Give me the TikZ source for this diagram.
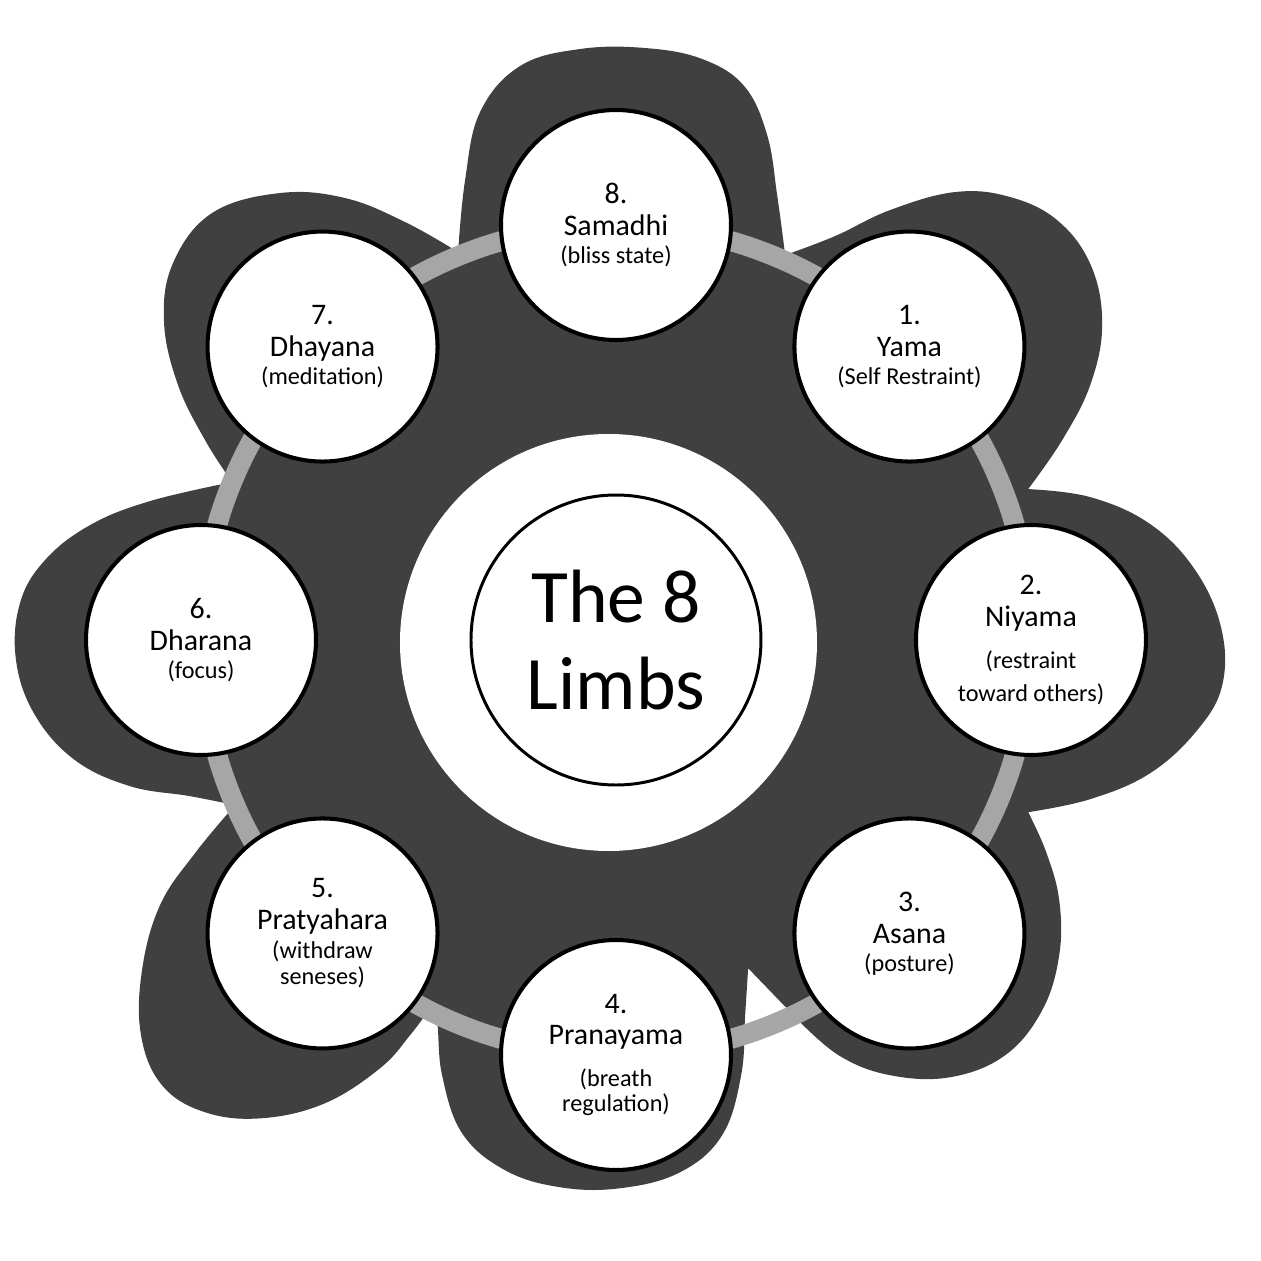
\documentclass[tikz,border=0pt]{standalone}
\usepackage{fontspec}
\setmainfont{Carlito}
\definecolor{blobgray}{RGB}{64,64,64}
\definecolor{ringgray}{RGB}{166,166,166}
\newcommand{\sublabel}[1]{{\fontsize{13.8}{16}\selectfont #1}}
\tikzset{
  limb/.style={circle, draw=black, line width=2.3pt, fill=white, minimum size=4.6cm,
    inner sep=0pt, align=center, font=\fontsize{17}{16}\selectfont},
  hub/.style={circle, draw=black, line width=1.7pt, fill=white, minimum size=5.8cm,
    inner sep=0pt, align=center, font=\fontsize{43}{49.5}\selectfont},
  ringline/.style={draw=ringgray, line width=0.4cm},
  petal/.style={smooth, tension=0.65}
}
\begin{document}
\begin{tikzpicture}
  \useasboundingbox (-12.32,-12.42) rectangle (12.9,12.8);

  % dark blob, traced in pixel units
  \begin{scope}[x=0.02cm, y=-0.02cm, shift={(-12.32cm,12.8cm)}]
    \fill[blobgray] (458,252)
      -- plot[petal] coordinates {(458,252) (465,180) (480,112) (520,66) (580,49) (645,48)
         (702,59) (744,86) (767,135) (777,195) (785,255)}
      -- plot[petal] coordinates {(785,255) (835,236) (890,210) (955,192) (1010,197)
         (1058,221) (1091,266) (1102,325) (1090,385) (1062,440) (1028,489)}
      -- plot[petal] coordinates {(1028,489) (1090,497) (1150,524) (1195,570) (1221,628)
         (1222,685) (1197,730) (1150,773) (1090,799) (1028,812)}
      -- plot[petal] coordinates {(1028,812) (1046,852) (1059,900) (1059,955) (1042,1010)
         (1005,1055) (950,1077) (890,1075) (840,1056) (800,1022)}
      -- (748,968)
      -- plot[petal] coordinates {(748,968) (745,1015) (741,1075) (722,1135) (680,1172)
         (620,1188) (560,1187) (505,1170) (462,1133) (442,1075) (437,1022) (430,1008)}
      -- plot[petal] coordinates {(430,1008) (410,1035) (380,1068) (325,1103) (262,1118)
         (205,1112) (162,1085) (141,1035) (142,970) (160,905) (195,853) (235,805)}
      -- plot[petal] coordinates {(235,805) (190,796) (130,786) (75,760) (35,715)
         (16,660) (20,603) (45,560) (90,525) (150,501) (232,482)}
      -- plot[petal] coordinates {(232,482) (205,440) (178,385) (164,322) (173,263)
         (212,213) (280,193) (345,198) (405,222) (458,252)}
      -- cycle;
  \end{scope}

  \fill[white] (-0.15,-0.05) circle (4.17cm);
  \draw[ringline] (0,0) circle (8.3cm);

  \node[hub] (hub) at (0,0) {The 8\\Limbs};

  \node[limb] (samadhi) at (90:8.3) {8.\\[2.1pt]Samadhi\\\sublabel{(bliss state)}};
  \node[limb] (yama) at (45:8.3) {1.\\[2.1pt]Yama\\\sublabel{(Self Restraint)}};
  \node[limb] (niyama) at (0:8.3) {2.\\[2.1pt]Niyama\\[8.4pt]\sublabel{(restraint}\\[2.7pt]\sublabel{toward others)}};
  \node[limb] (asana) at (-45:8.3) {3.\\[2.1pt]Asana\\\sublabel{(posture)}};
  \node[limb] (pranayama) at (-90:8.3) {4.\\[2.1pt]Pranayama\\[7.9pt]\sublabel{(breath}\\[-1.8pt]\sublabel{regulation)}};
  \node[limb] (pratyahara) at (-135:8.3) {5.\\[2.1pt]Pratyahara\\[0.5pt]\sublabel{(withdraw}\\[-1.2pt]\sublabel{seneses)}};
  \node[limb] (dharana) at (180:8.3) {6.\\[2.1pt]Dharana\\\sublabel{(focus)}};
  \node[limb] (dhayana) at (135:8.3) {7.\\[2.1pt]Dhayana\\\sublabel{(meditation)}};
\end{tikzpicture}
\end{document}
